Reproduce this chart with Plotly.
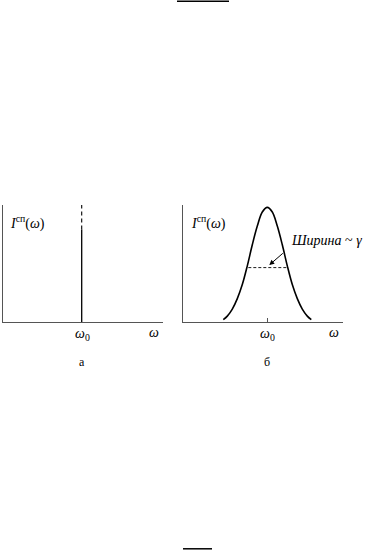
import plotly.graph_objects as go

# ---- data ----
omega0 = 1.0
# panel a: monochromatic line (spike)
spike_solid = [0.0, 0.79]
spike_dash = [0.79, 1.0]
# panel б: broadened line (offset from omega0, intensity)
offsets = [-0.44, -0.40, -0.35, -0.30, -0.25, -0.20, -0.15, -0.10, -0.05, 0.0,
           0.05, 0.10, 0.15, 0.20, 0.25, 0.30, 0.35, 0.40, 0.44]
intens = [0.02, 0.05, 0.11, 0.20, 0.32, 0.48, 0.66, 0.82, 0.94, 0.98,
          0.94, 0.82, 0.66, 0.48, 0.32, 0.20, 0.11, 0.05, 0.02]
half_level = 0.465
half_width = [-0.19, 0.19]

ylabel = "<i>I</i><sup>сп</sup>(<i>ω</i>)"
xlabel_w0 = "<i>ω</i><sub>0</sub>"
xlabel_w = "<i>ω</i>"
panel_labels = ["а", "б"]
width_label = "<i>Ширина</i> ~ <i>γ</i>"

W, H = 370, 550
FONT = "Liberation Serif"

def px(x):
    return x / W

def py(y):
    return (H - y) / H

fig = go.Figure()

# panel a
fig.add_trace(go.Scatter(x=[omega0, omega0], y=spike_solid, mode="lines",
                         line=dict(color="black", width=1.3),
                         xaxis="x", yaxis="y", showlegend=False, hoverinfo="skip"))
fig.add_trace(go.Scatter(x=[omega0, omega0], y=spike_dash, mode="lines",
                         line=dict(color="black", width=1.1, dash="4px,3px"),
                         xaxis="x", yaxis="y", showlegend=False, hoverinfo="skip"))

# panel б
fig.add_trace(go.Scatter(x=[omega0 + d for d in offsets], y=intens, mode="lines",
                         line=dict(color="black", width=1.6, shape="spline", smoothing=1.0),
                         xaxis="x2", yaxis="y2", showlegend=False, hoverinfo="skip"))
fig.add_trace(go.Scatter(x=[omega0 + d for d in half_width], y=[half_level, half_level],
                         mode="lines", line=dict(color="black", width=0.9, dash="3px,2px"),
                         xaxis="x2", yaxis="y2", showlegend=False, hoverinfo="skip"))

axis_common = dict(showgrid=False, zeroline=False, showline=True,
                   linecolor="#555555", linewidth=1, fixedrange=True)

x_left0, x_left1 = 2.5, 163.0
x_right0, x_right1 = 183.0, 343.0
y_bot, y_top = 322.0, 205.0
s_left = (81.7 - x_left0)
s_right = 100.0
c_right = 267.3

fig.update_layout(
    width=W, height=H,
    margin=dict(l=0, r=0, t=0, b=0),
    paper_bgcolor="white", plot_bgcolor="white",
    xaxis=dict(domain=[px(x_left0), px(x_left1)],
               range=[0, (x_left1 - x_left0) / s_left],
               showticklabels=False, ticks="", anchor="y", **axis_common),
    yaxis=dict(domain=[py(y_bot), py(y_top)], range=[0, 1],
               showticklabels=False, ticks="", anchor="x", **axis_common),
    xaxis2=dict(domain=[px(x_right0), px(x_right1)],
                range=[omega0 - (c_right - x_right0) / s_right,
                       omega0 + (x_right1 - c_right) / s_right],
                showticklabels=False, ticks="inside", tickvals=[omega0],
                ticklen=4, tickcolor="#555555", tickwidth=1,
                anchor="y2", **axis_common),
    yaxis2=dict(domain=[py(y_bot), py(y_top)], range=[0, 1],
                showticklabels=False, ticks="", anchor="x2", **axis_common),
)

def ann(text, x, y, size=13, xanchor="center", yanchor="middle"):
    fig.add_annotation(text=text, x=px(x), y=py(y), xref="paper", yref="paper",
                       showarrow=False, xanchor=xanchor, yanchor=yanchor,
                       font=dict(family=FONT, size=size, color="black"))

# labels
ann(ylabel, 8, 222, size=14, xanchor="left")
ann(ylabel, 189, 222, size=14, xanchor="left")
ann(xlabel_w0, 82, 334, size=14)
ann(xlabel_w, 154, 332, size=14)
ann(xlabel_w0, 267.3, 334, size=14)
ann(xlabel_w, 334, 332, size=14)
ann(panel_labels[0], 81.5, 362, size=12)
ann(panel_labels[1], 267.3, 362, size=12)

# width annotation: text + arrow
ann(width_label, 289, 240, size=14, xanchor="left")
fig.add_annotation(text="", x=omega0 + 0.02, y=0.487, xref="x2", yref="y2",
                   showarrow=True, arrowhead=2, arrowsize=1, arrowwidth=1,
                   arrowcolor="black", ax=15, ay=-13, standoff=0)

# page decorations
fig.add_shape(type="line", xref="paper", yref="paper", x0=px(177), x1=px(229),
              y0=py(1.2), y1=py(1.2), line=dict(color="black", width=1.5))
fig.add_shape(type="line", xref="paper", yref="paper", x0=px(183), x1=px(212),
              y0=py(548.8), y1=py(548.8), line=dict(color="black", width=1.5))

fig.write_html("out.html")
